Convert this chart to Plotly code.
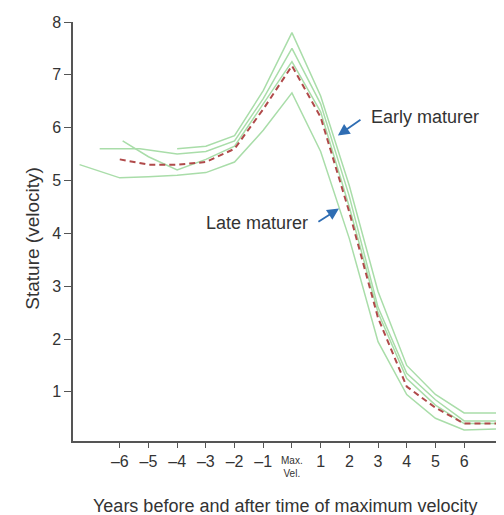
import plotly.graph_objects as go

# Data
mean_x = [-6, -5, -4, -3, -2, -1, 0, 1, 2, 3, 4, 5, 6, 7.3]
mean_y = [5.4, 5.3, 5.3, 5.35, 5.6, 6.35, 7.17, 6.2, 4.4, 2.4, 1.1, 0.7, 0.4, 0.4]

g1_x = [-4, -3, -2, -1, 0, 1, 2, 3, 4, 5, 6, 7.3]
g1_y = [5.6, 5.65, 5.85, 6.7, 7.8, 6.6, 4.9, 2.9, 1.5, 0.95, 0.6, 0.6]

g2_x = [-6.7, -5.3, -4, -3, -2, -1, 0, 1, 2, 3, 4, 5, 6, 7.3]
g2_y = [5.6, 5.6, 5.5, 5.55, 5.75, 6.55, 7.5, 6.45, 4.7, 2.6, 1.35, 0.85, 0.45, 0.45]

g3_x = [-7.4, -6, -5, -4, -3, -2, -1, 0, 1, 2, 3, 4, 5, 6, 7.3]
g3_y = [5.3, 5.05, 5.07, 5.1, 5.15, 5.35, 5.95, 6.66, 5.55, 3.9, 1.95, 0.95, 0.5, 0.28, 0.3]

g4_x = [-5.9, -5, -4, -3, -2, -1, 0, 1, 2, 3, 4, 5, 6, 7.3]
g4_y = [5.75, 5.45, 5.2, 5.4, 5.65, 6.45, 7.25, 6.3, 4.5, 2.5, 1.25, 0.75, 0.4, 0.4]

tick_vals = [-6, -5, -4, -3, -2, -1, 0, 1, 2, 3, 4, 5, 6]
tick_text = ["\u20136", "\u20135", "\u20134", "\u20133", "\u20132", "\u20131", "",
             "1", "2", "3", "4", "5", "6"]
y_ticks = [1, 2, 3, 4, 5, 6, 7, 8]

green = "#a9dda9"
fig = go.Figure()
for gx, gy in [(g3_x, g3_y), (g4_x, g4_y), (g2_x, g2_y), (g1_x, g1_y)]:
    fig.add_trace(go.Scatter(x=gx, y=gy, mode="lines",
                             line=dict(color=green, width=1.5), showlegend=False))
fig.add_trace(go.Scatter(x=mean_x, y=mean_y, mode="lines",
                         line=dict(color="#b04a4a", width=2, dash="6px,4px"), showlegend=False))

font = "Liberation Sans, Arial, sans-serif"
txt = "#333"
arrow_col = "#2f6db3"
fig.add_annotation(x=1.6, y=5.85, ax=2.44, ay=6.17, axref="x", ayref="y", text="",
                   showarrow=True, arrowhead=2, arrowsize=1.3, arrowwidth=1.8, arrowcolor=arrow_col)
fig.add_annotation(x=2.68, y=6.2, text="Early maturer", showarrow=False, xanchor="left",
                   font=dict(family=font, size=18, color=txt))
fig.add_annotation(x=1.64, y=4.47, ax=0.87, ay=4.2, axref="x", ayref="y", text="",
                   showarrow=True, arrowhead=2, arrowsize=1.3, arrowwidth=1.8, arrowcolor=arrow_col)
fig.add_annotation(x=0.63, y=4.2, text="Late maturer", showarrow=False, xanchor="right",
                   font=dict(family=font, size=18, color=txt))
# "Max. Vel." tick label
fig.add_annotation(x=0, y=-0.028, yref="paper", text="Max.<br>Vel.", showarrow=False,
                   yanchor="top", font=dict(family=font, size=10, color=txt))
# axis titles
fig.add_annotation(x=0.494, y=-0.155, xref="paper", yref="paper", showarrow=False, yanchor="middle",
                   text="Years before and after time of maximum velocity",
                   font=dict(family=font, size=18, color=txt))
fig.add_annotation(x=-0.123, y=0.484, xref="paper", yref="paper", showarrow=False, textangle=-90,
                   text="Stature (velocity)", font=dict(family=font, size=19, color=txt))

fig.update_layout(
    width=496, height=507,
    margin=dict(l=65, r=0, t=14, b=74),
    paper_bgcolor="white", plot_bgcolor="white",
    font=dict(family=font, size=16, color=txt),
    xaxis=dict(range=[-7.63, 7.39], tickvals=tick_vals, ticktext=tick_text, automargin=False,
               showgrid=False, zeroline=False, showline=True, linecolor="#555", linewidth=1.5,
               ticks="outside", ticklen=5, tickcolor="#555", tickwidth=1.3),
    yaxis=dict(range=[0.07, 8.0], tickvals=y_ticks, automargin=False,
               showgrid=False, zeroline=False, showline=True, linecolor="#555", linewidth=1.5,
               ticks="outside", ticklen=7, tickcolor="#555", tickwidth=1.3),
)
fig.write_html("out.html")
